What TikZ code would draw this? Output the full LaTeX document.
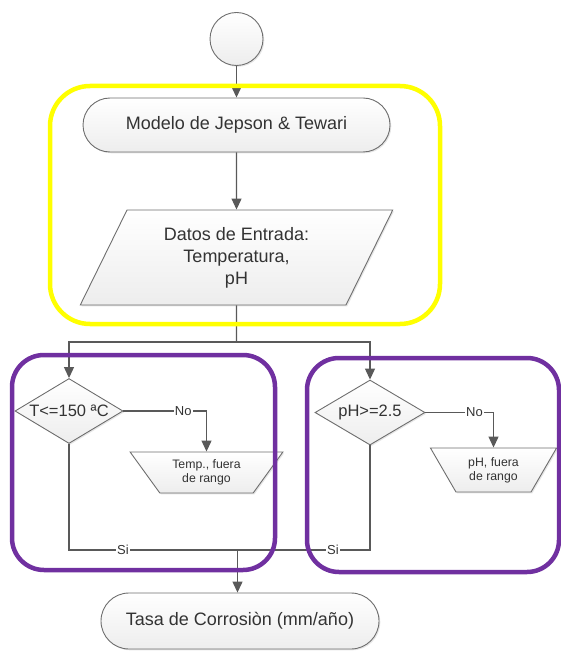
\documentclass[tikz,border=0pt]{standalone}
\usepackage{fontspec}
\setmainfont{Liberation Sans}
\usetikzlibrary{shapes.geometric,arrows.meta,shadows}
\definecolor{lineg}{HTML}{595959}
\definecolor{edgeg}{HTML}{6E6E6E}
\definecolor{txtg}{HTML}{333333}
\definecolor{frameY}{HTML}{FFFF00}
\definecolor{frameP}{HTML}{7030A0}
\tikzset{
  base/.style={draw=edgeg, line width=0.9pt, top color=white, bottom color=gray!14,
    text=txtg, align=center, inner sep=0pt,
    drop shadow={shadow xshift=1.3pt, shadow yshift=-1.3pt, opacity=0.2}},
  bigtext/.style={font=\fontsize{18}{22}\selectfont},
  startnode/.style={base, circle, minimum size=53pt},
  termnode/.style={base, bigtext, rectangle, rounded corners=27pt, minimum height=54pt},
  ionode/.style={base, bigtext, trapezium, trapezium stretches=true},
  decnode/.style={base, diamond, aspect=1.66, font=\fontsize{16.5}{20}\selectfont},
  msgnode/.style={base, trapezium, trapezium stretches=true, font=\fontsize{12.3}{14}\selectfont},
  flow/.style={draw=lineg, line width=1.2pt},
  arrow/.style={flow, -{Triangle[length=11pt,width=10pt]}},
  lbl/.style={fill=white, inner sep=1pt, text=txtg, font=\fontsize{13}{15}\selectfont},
  frame/.style={line width=4.5pt},
}
\begin{document}
\begin{tikzpicture}[x=1pt,y=-1pt]
\useasboundingbox (0,0) rectangle (561,652);

% flow chart shapes
\node[startnode] (start) at (236.5,39) {};
\node[termnode, minimum width=307pt] (model) at (236.5,125) {Modelo de Jepson \& Tewari};
\node[ionode, minimum width=313pt, minimum height=95pt,
      trapezium left angle=63, trapezium right angle=117] (input) at (236.5,257.5)
      {Datos de Entrada:\\Temperatura,\\pH};
\node[decnode, minimum width=108pt, minimum height=65pt] (tcheck) at (69,411) {T<=150 ªC};
\node[decnode, minimum width=110pt, minimum height=65pt] (phcheck) at (370,412.5) {pH>=2.5};
\node[msgnode, minimum width=153pt, minimum height=41pt,
      trapezium left angle=130.5, trapezium right angle=130.5] (tout) at (206.5,472.5)
      {Temp., fuera\\de rango};
\node[msgnode, minimum width=127pt, minimum height=44pt,
      trapezium left angle=124, trapezium right angle=124] (phout) at (493.5,470)
      {pH, fuera\\de rango};
\node[termnode, minimum width=278pt, minimum height=56pt, rounded corners=28pt] (rate) at (240,621)
      {Tasa de Corrosiòn (mm/año)};

\coordinate (split) at (236.5,342);
\coordinate (join) at (237.5,550);

% connectors
\draw[arrow] (start) -- (model);
\draw[arrow] (model) -- (input);
\draw[flow] (input.south) -- (split);
\draw[arrow] (split) -| (tcheck.north);
\draw[arrow] (split) -| (phcheck.north);
\draw[arrow] (tcheck.east) -| node[lbl, pos=0.36] {No} (tout.north);
\draw[arrow] (phcheck.east) -| node[lbl, pos=0.36] {No} (phout.north);
\draw[flow] (tcheck.south) |- node[lbl, pos=0.66] {Si} (join);
\draw[flow] (phcheck.south) |- node[lbl, pos=0.64] {Si} (join);
\draw[arrow] (join) -- (join |- rate.north);

% grouping frames
\draw[frame, draw=frameY, rounded corners=40pt] (50,86) rectangle (440,324);
\draw[frame, draw=frameP, rounded corners=32pt] (12,355) rectangle (275,570);
\draw[frame, draw=frameP, rounded corners=32pt] (307,358) rectangle (559,572);
\end{tikzpicture}
\end{document}
